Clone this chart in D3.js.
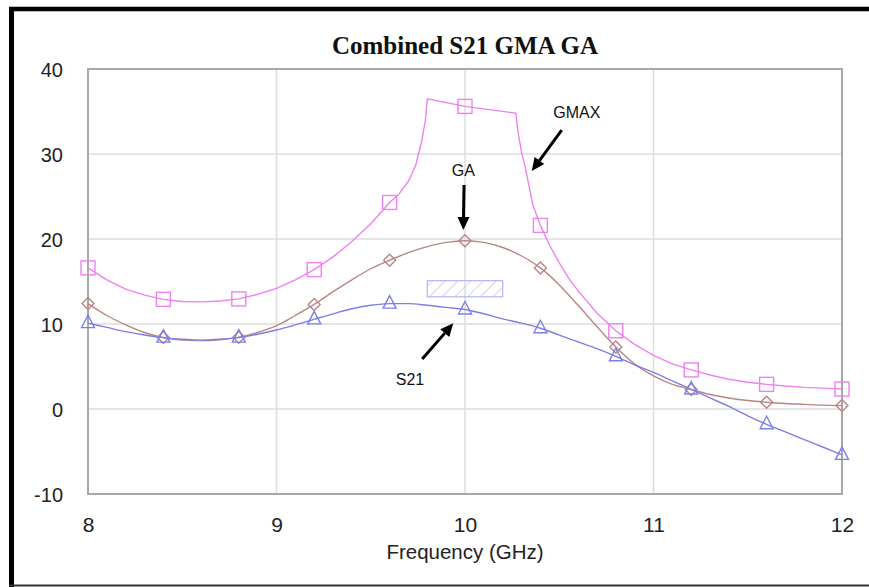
<!DOCTYPE html>
<html>
<head>
<meta charset="utf-8">
<script src="https://cdn.jsdelivr.net/npm/d3@7"></script>
<style>
  html, body { margin: 0; padding: 0; background: #fff; }
  svg { display: block; }
</style>
</head>
<body>
<svg id="chart" width="869" height="587"></svg>
<script>
// Frequency sweep (GHz) and gains (dB)
const gmaxFreq = [8.0, 8.1, 8.2, 8.3, 8.4, 8.5, 8.6, 8.7, 8.8, 8.9, 9.0, 9.1, 9.2, 9.3, 9.4, 9.5, 9.6, 9.65, 9.7, 9.74, 9.77, 9.79, 9.8,
                  10.0, 10.27, 10.28, 10.3, 10.32, 10.36, 10.4, 10.45, 10.5, 10.55, 10.6, 10.7, 10.8, 10.9, 11.0, 11.1, 11.2, 11.3, 11.4, 11.5, 11.6, 11.7, 11.8, 11.9, 12.0];
const gmaxDb   = [16.6, 15.2, 14.1, 13.4, 12.9, 12.65, 12.6, 12.7, 12.95, 13.5, 14.2, 15.2, 16.4, 17.9, 19.7, 21.8, 24.3, 25.3, 26.8, 28.8, 31.5, 34.0, 36.5,
                  35.6, 34.8, 32.8, 30.2, 28.4, 24.0, 21.6, 19.2, 17.2, 15.4, 13.9, 11.3, 9.2, 7.6, 6.3, 5.3, 4.6, 4.0, 3.5, 3.15, 2.9, 2.7, 2.55, 2.45, 2.35];

const sweepFreq = [8.0, 8.1, 8.2, 8.3, 8.4, 8.5, 8.6, 8.7, 8.8, 8.9, 9.0, 9.1, 9.2, 9.3, 9.4, 9.5, 9.6, 9.7, 9.8, 9.9, 10.0,
                   10.1, 10.2, 10.3, 10.4, 10.5, 10.6, 10.7, 10.8, 10.9, 11.0, 11.1, 11.2, 11.3, 11.4, 11.5, 11.6, 11.7, 11.8, 11.9, 12.0];
const gaDb  = [12.4, 11.0, 9.9, 9.0, 8.4, 8.1, 8.05, 8.15, 8.45, 9.0, 9.8, 11.0, 12.3, 13.8, 15.2, 16.5, 17.5, 18.4, 19.1, 19.6, 19.8,
               19.6, 19.0, 18.0, 16.6, 14.6, 12.2, 9.7, 7.3, 5.3, 3.9, 2.9, 2.3, 1.7, 1.3, 1.0, 0.8, 0.65, 0.55, 0.45, 0.4];
const s21Db = [10.1, 9.6, 9.1, 8.7, 8.4, 8.2, 8.1, 8.2, 8.4, 8.8, 9.3, 9.9, 10.55, 11.2, 11.8, 12.2, 12.4, 12.4, 12.2, 11.95, 11.7,
               11.2, 10.6, 10.1, 9.5, 8.7, 7.9, 7.1, 6.2, 5.2, 4.3, 3.3, 2.3, 1.3, 0.3, -0.8, -1.8, -2.7, -3.6, -4.5, -5.4];

// Frequencies that carry a marker symbol
const markerFreq = [8.0, 8.4, 8.8, 9.2, 9.6, 10.0, 10.4, 10.8, 11.2, 11.6, 12.0];

const xTicks = [8, 9, 10, 11, 12];
const yTicks = [-10, 0, 10, 20, 30, 40];

const titleText = "Combined S21 GMA GA";
const xAxisLabel = "Frequency (GHz)";

// Hatched band (frequency range, gain range)
const bandFreq = [9.8, 10.2];
const bandDb = [13.2, 15.1];

// Callouts: label, label position, arrow tail, arrow tip (GHz, dB)
const callouts = [
  { label: "GMAX", at: [10.593, 34.9], from: [10.513, 32.8], to: [10.354, 28.0] },
  { label: "GA",   at: [9.991, 28.1],  from: [9.995, 26.35], to: [9.991, 21.06] },
  { label: "S21",  at: [9.708, 3.45],  from: [9.773, 5.88],  to: [9.938, 10.08] }
];

const svg = d3.select("#chart");
const W = 869, H = 587;
const plot = { left: 88, right: 842, top: 69, bottom: 494 };

const x = d3.scaleLinear().domain([8, 12]).range([plot.left, plot.right]);
const y = d3.scaleLinear().domain([-10, 40]).range([plot.bottom, plot.top]);

// outer frame
svg.append("line").attr("x1", 9).attr("x2", W).attr("y1", 9).attr("y2", 9)
  .attr("stroke", "#000").attr("stroke-width", 4.5);
svg.append("line").attr("x1", 11.5).attr("x2", 11.5).attr("y1", 7).attr("y2", H)
  .attr("stroke", "#000").attr("stroke-width", 5);
svg.append("line").attr("x1", 9).attr("x2", W).attr("y1", 585.5).attr("y2", 585.5)
  .attr("stroke", "#333").attr("stroke-width", 2);

// title
svg.append("text")
  .attr("x", x(10)).attr("y", 54)
  .attr("text-anchor", "middle")
  .attr("font-family", "'Liberation Serif', 'Times New Roman', serif")
  .attr("font-weight", "bold")
  .attr("font-size", 25)
  .attr("fill", "#111")
  .text(titleText);

// grid
const grid = svg.append("g");
grid.selectAll(".gx").data(xTicks.slice(1, -1)).join("line")
  .attr("x1", d => x(d)).attr("x2", d => x(d))
  .attr("y1", plot.top).attr("y2", plot.bottom)
  .attr("stroke", "#dcdcdc").attr("stroke-width", 1.5);
grid.selectAll(".gy").data(yTicks.slice(1, -1)).join("line")
  .attr("x1", plot.left).attr("x2", plot.right)
  .attr("y1", d => y(d)).attr("y2", d => y(d))
  .attr("stroke", "#dcdcdc").attr("stroke-width", 1.5);

// plot frame
svg.append("rect")
  .attr("x", plot.left).attr("y", plot.top)
  .attr("width", plot.right - plot.left).attr("height", plot.bottom - plot.top)
  .attr("fill", "none").attr("stroke", "#a8a8a8").attr("stroke-width", 2);

// axes (labels only)
const plain = d => String(d);
const xAxis = d3.axisBottom(x).tickValues(xTicks).tickSize(0).tickPadding(0).tickFormat(plain);
const gx = svg.append("g").attr("transform", `translate(0,${plot.bottom + 38})`).call(xAxis);
gx.select(".domain").remove();
gx.selectAll("text").attr("font-family", "'Liberation Sans', Arial, sans-serif")
  .attr("font-size", 21).attr("fill", "#222").attr("dy", 0);

const yAxis = d3.axisLeft(y).tickValues(yTicks).tickSize(0).tickPadding(0).tickFormat(plain);
const gy = svg.append("g").attr("transform", `translate(${plot.left - 25},0)`).call(yAxis);
gy.select(".domain").remove();
gy.selectAll("text").attr("font-family", "'Liberation Sans', Arial, sans-serif")
  .attr("font-size", 20).attr("fill", "#222").attr("dy", "0.36em");

svg.append("text")
  .attr("x", x(10)).attr("y", 559)
  .attr("text-anchor", "middle")
  .attr("font-family", "'Liberation Sans', Arial, sans-serif")
  .attr("font-size", 20.5).attr("fill", "#222")
  .text(xAxisLabel);

// hatched band
const defs = svg.append("defs");
const pat = defs.append("pattern").attr("id", "hatch")
  .attr("patternUnits", "userSpaceOnUse").attr("width", 9).attr("height", 9)
  .attr("patternTransform", "rotate(45)");
pat.append("line").attr("x1", 0).attr("x2", 0).attr("y1", 0).attr("y2", 9)
  .attr("stroke", "#b7b9ef").attr("stroke-width", 1.3);
svg.append("rect")
  .attr("x", x(bandFreq[0])).attr("y", y(bandDb[1]))
  .attr("width", x(bandFreq[1]) - x(bandFreq[0]))
  .attr("height", y(bandDb[0]) - y(bandDb[1]))
  .attr("fill", "url(#hatch)").attr("stroke", "#b7b9ef").attr("stroke-width", 1.3);

// series
const series = [
  { name: "GMAX", freq: gmaxFreq,  db: gmaxDb, color: "#ee82ee", curve: d3.curveLinear, symbol: "square" },
  { name: "GA",   freq: sweepFreq, db: gaDb,   color: "#b98683", curve: d3.curveMonotoneX, symbol: "diamond" },
  { name: "S21",  freq: sweepFreq, db: s21Db,  color: "#7d7fe8", curve: d3.curveMonotoneX, symbol: "triangle" }
];

const line = d3.line().x(d => x(d[0])).y(d => y(d[1]));

const isMarker = f => markerFreq.some(m => Math.abs(m - f) < 1e-6);

series.forEach(s => {
  const pts = s.freq.map((f, i) => [f, s.db[i]]);
  svg.append("path")
    .attr("d", line.curve(s.curve)(pts))
    .attr("fill", "none").attr("stroke", s.color).attr("stroke-width", 1.4);

  const mpts = pts.filter(p => isMarker(p[0]));
  const g = svg.append("g").attr("fill", "none").attr("stroke", s.color).attr("stroke-width", 1.4);
  mpts.forEach(p => {
    const cx = x(p[0]), cy = y(p[1]);
    if (s.symbol === "square") {
      g.append("rect").attr("x", cx - 7).attr("y", cy - 7).attr("width", 14).attr("height", 14);
    } else if (s.symbol === "diamond") {
      g.append("path").attr("d", `M${cx},${cy - 6}L${cx + 6},${cy}L${cx},${cy + 6}L${cx - 6},${cy}Z`);
    } else {
      g.append("path").attr("d", `M${cx},${cy - 8}L${cx + 6.5},${cy + 4.5}L${cx - 6.5},${cy + 4.5}Z`);
    }
  });
});

// callouts
const ann = svg.append("g");
callouts.forEach(c => {
  const x1 = x(c.from[0]), y1 = y(c.from[1]);
  const x2 = x(c.to[0]), y2 = y(c.to[1]);
  const ang = Math.atan2(y2 - y1, x2 - x1);
  const headLen = 13, headHalf = 6;
  const bx = x2 - headLen * Math.cos(ang), by = y2 - headLen * Math.sin(ang);
  ann.append("line").attr("x1", x1).attr("y1", y1).attr("x2", bx).attr("y2", by)
    .attr("stroke", "#000").attr("stroke-width", 3);
  const px = -Math.sin(ang) * headHalf, py = Math.cos(ang) * headHalf;
  ann.append("path")
    .attr("d", `M${x2},${y2}L${bx + px},${by + py}L${bx - px},${by - py}Z`)
    .attr("fill", "#000");
  ann.append("text")
    .attr("x", x(c.at[0])).attr("y", y(c.at[1]))
    .attr("dy", "0.36em")
    .attr("text-anchor", "middle")
    .attr("font-family", "'Liberation Sans', Arial, sans-serif")
    .attr("font-size", 16).attr("fill", "#111")
    .text(c.label);
});
</script>
</body>
</html>
